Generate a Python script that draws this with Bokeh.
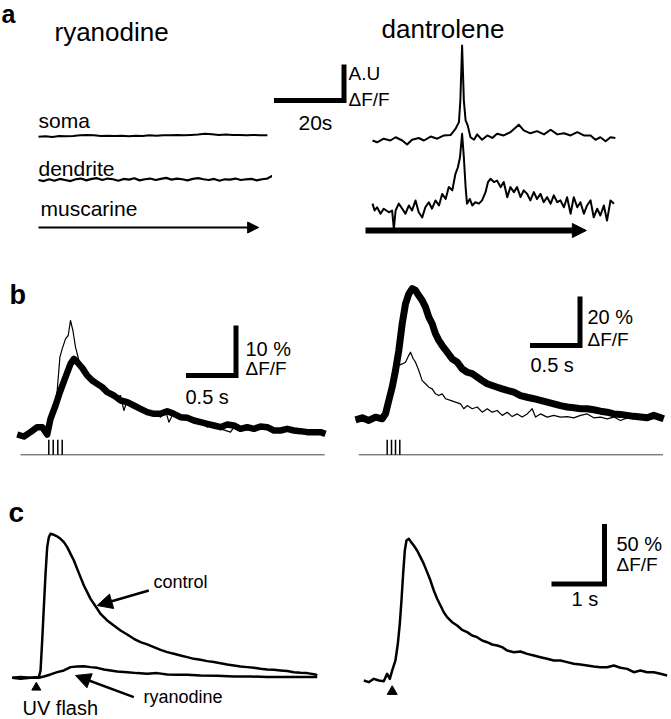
import numpy as np
from bokeh.plotting import figure
from bokeh.layouts import column, row
from bokeh.models import Range1d, Arrow, NormalHead
from bokeh.core.properties import value
from bokeh.embed import file_html
from bokeh.resources import INLINE

FONT = "Liberation Sans"

# ---------------- DATA ----------------
# panel a : time (s), fluorescence (A.U.)
a_ryan_soma = [-0.02, -0.01, -0.03, 0.0, -0.01, 0.0, 0.02, 0.03, 0.02, 0.0, 0.01, 0.0, 0.01, -0.01,
               0.01, 0.0, 0.02, 0.01, 0.02, 0.02, 0.03, 0.02, 0.03, 0.04, 0.06, 0.05, 0.03, 0.04,
               0.03, 0.03, 0.02, 0.03, 0.02, 0.02]
a_ryan_soma_dur = 65.4
a_ryan_dend = [0.0, -0.03, 0.02, -0.02, 0.03, 0.0, -0.03, 0.02, 0.04, -0.01, 0.03, 0.05, 0.0, 0.04,
               0.02, -0.02, 0.03, 0.01, 0.05, -0.01, 0.02, 0.04, 0.0, 0.03, 0.06, 0.01, 0.04, 0.02,
               -0.01, 0.03, 0.05, 0.02, 0.0, 0.03, -0.02, 0.02, 0.01, 0.04, 0.0, 0.02, 0.03, -0.01,
               0.02, 0.04, 0.12]
a_ryan_dend_dur = 66.9
a_ryan_muscarine = (0.0, 62.9)

a_dant_soma = [(0.0, 0.0), (1.3, -0.05), (3.2, 0.05), (5.1, 0.0), (6.6, 0.09), (8.5, 0.0), (9.9, -0.11),
               (11.3, 0.02), (13.2, 0.07), (14.7, 0.0), (16.6, 0.11), (18.5, 0.05), (20.4, 0.14),
               (22.3, 0.15), (23.7, 0.32), (24.7, 0.51), (25.1, 1.11), (25.6, 2.64), (26.1, 1.11),
               (26.6, 0.56), (27.2, 0.42), (28.0, 0.09), (29.0, 0.02), (29.9, 0.17), (31.3, 0.02),
               (32.8, 0.14), (34.2, 0.07), (35.6, 0.19), (37.5, 0.14), (39.4, 0.23), (41.8, 0.44),
               (43.2, 0.28), (45.1, 0.20), (47.0, 0.26), (49.0, 0.17), (50.9, 0.30), (52.8, 0.17),
               (54.7, 0.20), (56.6, 0.14), (58.5, 0.23), (60.4, 0.14), (62.3, 0.14), (63.7, 0.02),
               (65.1, 0.09), (66.6, -0.02), (68.0, 0.09), (69.4, 0.07)]
a_dant_dend = [(0.0, 0.19), (0.6, 0.0), (1.3, 0.09), (2.3, -0.09), (3.2, 0.05), (4.7, -0.05), (5.6, 0.0),
               (6.1, -0.51), (6.6, 0.0), (7.5, 0.19), (8.5, 0.05), (9.4, -0.09), (10.4, 0.14),
               (11.3, 0.0), (12.3, 0.28), (13.2, -0.05), (14.2, -0.19), (15.1, 0.09), (16.1, 0.23),
               (17.0, 0.05), (18.0, 0.28), (19.0, 0.14), (19.9, 0.46), (20.9, 0.32), (21.8, 0.65),
               (22.8, 0.56), (23.7, 1.02), (24.4, 1.20), (25.0, 1.48), (25.6, 2.13), (26.1, 1.48),
               (26.6, 0.65), (27.0, 0.19), (27.8, 0.32), (28.5, 0.14), (29.4, 0.23), (30.4, 0.19),
               (31.3, 0.28), (32.3, 0.51), (33.0, 0.79), (33.7, 0.88), (34.7, 0.79), (35.6, 0.83),
               (36.6, 0.65), (37.5, 0.79), (38.5, 0.37), (39.4, 0.65), (40.4, 0.51), (41.3, 0.65),
               (42.3, 0.37), (43.2, 0.56), (44.2, 0.46), (45.1, 0.28), (46.1, 0.51), (47.0, 0.32),
               (48.0, 0.46), (48.9, 0.23), (49.9, 0.37), (50.9, 0.19), (51.8, 0.42), (52.8, 0.23),
               (53.7, 0.28), (54.7, 0.09), (55.6, 0.37), (56.6, -0.09), (57.5, 0.37), (58.5, 0.09),
               (59.4, 0.23), (60.4, -0.09), (61.3, 0.14), (62.3, 0.28), (63.2, -0.19), (64.2, 0.05),
               (65.1, -0.14), (66.1, 0.14), (67.0, -0.28), (68.0, 0.28), (69.0, 0.19)]
a_dant_muscarine = (-2.0, 61.1)
a_scale = (20, 1)          # 20 s , 1 A.U.

# panel b : time (s), dF/F (%)
b_left_thick = [(0.0, 0.0), (0.067, -0.4), (0.133, 0.47), (0.2, 1.47), (0.25, 1.47), (0.3, 0.0),
                (0.333, 3.13), (0.383, 5.8), (0.433, 8.8), (0.483, 11.47), (0.533, 14.13),
                (0.567, 15.13), (0.6, 14.47), (0.65, 13.33), (0.7, 11.8), (0.75, 10.8), (0.8, 10.13),
                (0.85, 9.47), (0.9, 8.47), (0.967, 7.8), (1.033, 6.8), (1.1, 6.47), (1.167, 5.8),
                (1.233, 5.13), (1.3, 4.47), (1.367, 4.13), (1.433, 4.13), (1.5, 4.67), (1.567, 4.13),
                (1.633, 3.47), (1.7, 3.33), (1.767, 2.8), (1.833, 2.47), (1.9, 2.13), (1.967, 1.8),
                (2.033, 1.47), (2.1, 2.0), (2.167, 1.8), (2.233, 1.13), (2.3, 1.47), (2.367, 1.13),
                (2.433, 1.6), (2.5, 1.47), (2.567, 0.8), (2.633, 0.8), (2.7, 1.13), (2.767, 0.8),
                (2.833, 0.67), (2.9, 0.47), (2.967, 0.47), (3.033, 0.47), (3.083, 0.13)]
b_left_thin = [(0.0, -0.2), (0.067, -0.53), (0.133, 0.67), (0.2, 1.33), (0.25, 1.13), (0.3, -0.4),
               (0.333, 2.8), (0.367, 5.13), (0.4, 8.8), (0.427, 15.47), (0.45, 17.13), (0.483, 19.13),
               (0.51, 19.8), (0.533, 22.8), (0.557, 20.8), (0.583, 17.47), (0.617, 14.8),
               (0.667, 12.8), (0.717, 11.47), (0.767, 10.8), (0.833, 9.47), (0.9, 8.8),
               (0.983, 7.47), (1.033, 7.8), (1.067, 4.8), (1.1, 6.8), (1.167, 5.47), (1.233, 5.13),
               (1.3, 4.13), (1.367, 4.47), (1.433, 3.47), (1.483, 4.8), (1.517, 2.47), (1.567, 4.47),
               (1.633, 3.13), (1.7, 3.47), (1.767, 2.47), (1.833, 2.8), (1.9, 1.47), (1.967, 2.13),
               (2.033, 1.13), (2.133, 0.47), (2.167, 1.47), (2.233, 0.8), (2.367, 0.93), (2.5, 1.13),
               (2.633, 0.47), (2.767, 0.93), (2.9, 0.27), (3.033, 0.67), (3.083, 0.27)]
b_left_stim = [0.316, 0.36, 0.406, 0.45]
b_right_thick = [(0.0, -0.41), (0.067, 0.41), (0.133, -0.68), (0.2, 0.68), (0.267, 0.0), (0.3, 2.04),
                 (0.333, 7.48), (0.367, 12.9), (0.4, 19.7), (0.433, 27.9), (0.467, 38.8), (0.5, 46.9),
                 (0.533, 51.0), (0.567, 53.1), (0.6, 52.4), (0.633, 50.3), (0.667, 48.3), (0.7, 45.6),
                 (0.733, 41.5), (0.767, 38.8), (0.8, 34.7), (0.833, 32.0), (0.867, 29.9),
                 (0.917, 27.2), (0.967, 24.5), (1.017, 23.1), (1.067, 20.4), (1.117, 19.0),
                 (1.167, 18.4), (1.217, 17.0), (1.267, 15.6), (1.317, 14.3), (1.367, 13.6),
                 (1.417, 12.9), (1.467, 12.2), (1.517, 11.6), (1.583, 10.9), (1.65, 9.5),
                 (1.717, 8.8), (1.783, 8.2), (1.85, 7.5), (1.917, 6.8), (1.983, 6.1), (2.05, 5.4),
                 (2.117, 4.8), (2.183, 4.5), (2.25, 4.1), (2.317, 4.1), (2.383, 3.7), (2.45, 3.1),
                 (2.517, 2.7), (2.583, 2.0), (2.65, 1.8), (2.717, 1.4), (2.783, 1.0), (2.85, 0.7),
                 (2.917, 0.4), (2.983, 1.4), (3.033, 0.7), (3.083, 0.0)]
b_right_thin = [(0.0, -0.7), (0.067, 0.0), (0.133, -0.4), (0.2, 0.4), (0.267, -0.4), (0.3, 2.0),
                (0.333, 6.1), (0.367, 11.6), (0.4, 17.0), (0.433, 21.8), (0.467, 22.4), (0.5, 23.1),
                (0.533, 25.9), (0.55, 27.2), (0.577, 24.5), (0.6, 23.1), (0.633, 19.7),
                (0.667, 15.6), (0.7, 14.3), (0.733, 12.9), (0.767, 12.2), (0.8, 10.2), (0.833, 9.5),
                (0.867, 10.2), (0.9, 8.2), (0.95, 7.5), (1.0, 6.8), (1.05, 6.1), (1.083, 4.1),
                (1.117, 5.4), (1.167, 4.1), (1.217, 4.8), (1.267, 2.7), (1.317, 4.1), (1.367, 2.7),
                (1.417, 3.4), (1.467, 1.4), (1.517, 2.7), (1.567, 0.9), (1.617, 2.0), (1.667, 0.7),
                (1.717, 2.0), (1.767, 4.1), (1.8, 0.7), (1.85, 2.0), (1.917, 0.7), (1.983, 1.4),
                (2.05, 0.7), (2.117, 0.9), (2.183, 0.4), (2.25, 1.4), (2.317, 2.0), (2.383, 0.4),
                (2.45, 0.7), (2.517, 0.0), (2.583, 0.7), (2.65, -0.7), (2.717, 0.4), (2.783, 0.0)]
b_right_stim = [0.317, 0.36, 0.4, 0.443]
b_stim_span = (0.033, 3.075)
b_left_scale = (0.5, 10)
b_right_scale = (0.5, 20)

# panel c : time (s), dF/F (%)
c_control = [(0.0, 0.0), (0.157, 0.6), (0.346, 0.0), (0.503, 0.6), (0.535, 6.1), (0.566, 31.1),
             (0.597, 58.9), (0.629, 86.7), (0.66, 108.9), (0.692, 117.2), (0.723, 120.0),
             (0.786, 119.2), (0.849, 117.8), (0.912, 115.8), (0.975, 113.1), (1.038, 108.9),
             (1.101, 103.3), (1.164, 97.8), (1.226, 90.8), (1.289, 83.9), (1.352, 76.9),
             (1.415, 71.4), (1.478, 65.8), (1.541, 61.7), (1.604, 57.5), (1.667, 53.3),
             (1.792, 47.8), (1.918, 43.6), (2.044, 39.4), (2.17, 36.1), (2.296, 32.5),
             (2.421, 29.7), (2.547, 27.8), (2.673, 25.6), (2.799, 23.3), (2.925, 21.4),
             (3.05, 20.0), (3.176, 18.6), (3.302, 17.2), (3.428, 15.8), (3.553, 15.0),
             (3.679, 13.9), (3.805, 13.1), (3.931, 12.2), (4.057, 11.1), (4.182, 10.3),
             (4.308, 9.4), (4.434, 8.9), (4.56, 8.3), (4.686, 7.5), (4.811, 6.9), (4.937, 6.7),
             (5.063, 6.1), (5.189, 5.6), (5.314, 4.7), (5.44, 4.2), (5.566, 3.9), (5.723, 2.8),
             (5.755, 1.9)]
c_ryanodine = [(0.0, 0.0), (0.157, -0.8), (0.346, 0.0), (0.503, 0.0), (0.597, 1.1), (0.723, 2.8),
               (0.849, 4.7), (0.975, 6.1), (1.101, 8.9), (1.226, 9.4), (1.352, 9.7), (1.478, 8.9),
               (1.604, 8.3), (1.73, 6.9), (1.855, 6.1), (1.981, 5.3), (2.17, 4.7), (2.358, 3.9),
               (2.547, 3.3), (2.736, 3.9), (2.925, 2.8), (3.113, 2.5), (3.302, 2.5), (3.553, 1.9),
               (3.868, 1.7), (4.182, 1.1), (4.497, 1.1), (4.811, 0.6), (5.126, 0.6), (5.44, 0.6),
               (5.755, 0.6)]
c_left_flash = 0.455
c_dantrolene = [(0.0, 0.0), (0.094, -1.4), (0.189, 1.4), (0.283, 0.0), (0.377, -0.6), (0.44, 5.6),
                (0.491, 1.4), (0.535, 8.3), (0.597, 16.7), (0.642, 30.6), (0.679, 47.2),
                (0.711, 66.7), (0.742, 88.9), (0.774, 108.3), (0.805, 116.7), (0.849, 118.1),
                (0.893, 115.3), (0.943, 112.5), (1.006, 108.3), (1.069, 102.8), (1.132, 97.2),
                (1.195, 90.3), (1.258, 83.3), (1.321, 75.0), (1.384, 68.1), (1.447, 62.5),
                (1.509, 56.9), (1.572, 52.8), (1.667, 48.6), (1.761, 45.8), (1.855, 42.2),
                (1.95, 40.3), (2.044, 37.5), (2.138, 36.1), (2.233, 33.3), (2.327, 31.9),
                (2.421, 30.0), (2.516, 29.2), (2.61, 27.8), (2.704, 25.0), (2.83, 23.6),
                (2.956, 24.2), (3.082, 22.2), (3.208, 20.8), (3.333, 19.4), (3.459, 18.1),
                (3.585, 16.7), (3.711, 16.7), (3.836, 15.3), (3.962, 13.9), (4.088, 13.3),
                (4.214, 12.5), (4.34, 11.7), (4.465, 11.1), (4.591, 11.1), (4.717, 12.5),
                (4.843, 10.6), (4.969, 9.7), (5.094, 6.9), (5.22, 8.3), (5.346, 6.9), (5.472, 6.9),
                (5.597, 5.6), (5.723, 4.2)]
c_right_flash = 0.536
c_scale = (1, 50)


# ---------------- helpers ----------------
def panel(x0, x1, y0, y1, ox, oy, sx, sy):
    p = figure(width=x1 - x0, height=y1 - y0, title=None,
               x_range=Range1d((x0 - ox) / sx, (x1 - ox) / sx),
               y_range=Range1d((oy - y1) / sy, (oy - y0) / sy),
               x_axis_type=None, y_axis_type=None,
               toolbar_location=None, output_backend="svg",
               min_border=0, outline_line_color=None,
               background_fill_color="white", border_fill_color="white")
    p.min_border_left = p.min_border_right = p.min_border_top = p.min_border_bottom = 0
    X = lambda px: (px - ox) / sx
    Y = lambda py: (oy - py) / sy
    return p, X, Y


def label(p, X, Y, px, baseline_px, text, size, bold=False):
    # the svg text is drawn about 0.35 em below the requested alphabetic line here,
    # so the anchor is raised by that amount to land the baseline where wanted
    p.text(x=[X(px)], y=[Y(baseline_px - 0.35 * size)], text=[text], text_font=value(FONT),
           text_font_size=value(f"{size}px"),
           text_font_style="bold" if bold else "normal", text_align="left",
           text_baseline="alphabetic", text_color="black")


def scalebar(p, cx, cy, dx, dy, lw=5):
    p.line([cx - dx, cx, cx], [cy, cy, cy + dy], line_width=lw, line_color="black",
           line_join="miter", line_cap="butt")


def trace(p, pairs, offset=0.0, lw=2.0):
    t, v = zip(*pairs)
    p.line(list(t), [vv + offset for vv in v], line_width=lw, line_color="black", line_join="round")


def arrow(p, xs, ys, xe, ye, lw, head):
    p.add_layout(Arrow(end=NormalHead(size=head, fill_color="black", line_color="black", line_width=1),
                       x_start=xs, y_start=ys, x_end=xe, y_end=ye,
                       line_width=lw, line_color="black"))


ROW_AB = 265   # boundary between rows a and b
ROW_BC = 490   # boundary between rows b and c

# ---------------- panel a left (ryanodine) ----------------
pa1, X, Y = panel(0, 272, 0, ROW_AB, 38, 135.5, 3.5, 36)
label(pa1, X, Y, 1, 22, "a", 25, bold=True)
label(pa1, X, Y, 54, 41, "ryanodine", 26)
label(pa1, X, Y, 38, 127, "soma", 21)
label(pa1, X, Y, 38, 175, "dendrite", 21)
label(pa1, X, Y, 40, 215, "muscarine", 21)
t_s = np.linspace(0, a_ryan_soma_dur, len(a_ryan_soma))
pa1.line(t_s, a_ryan_soma, line_width=2, line_color="black")
t_d = np.linspace(0, a_ryan_dend_dur, len(a_ryan_dend))
pa1.line(t_d, [v + Y(179.5) for v in a_ryan_dend], line_width=2.2, line_color="black")
arrow(pa1, a_ryan_muscarine[0], Y(227), a_ryan_muscarine[1], Y(227), 2, 11)

# ---------------- panel a right (dantrolene) ----------------
pa2, X, Y = panel(272, 671, 0, ROW_AB, 372, 140, 3.5, 36)
label(pa2, X, Y, 381, 38, "dantrolene", 26)
scalebar(pa2, X(343.5), Y(100), a_scale[0], a_scale[1])
label(pa2, X, Y, 298, 129, "20s", 21)
label(pa2, X, Y, 348, 80, "A.U", 19)
label(pa2, X, Y, 348, 106, "\u0394F/F", 19)
trace(pa2, a_dant_soma, 0.0, 2)
trace(pa2, a_dant_dend, Y(210), 2)
arrow(pa2, a_dant_muscarine[0], Y(230), a_dant_muscarine[1], Y(230), 6, 14)

# ---------------- panel b left ----------------
pb1, X, Y = panel(0, 340, ROW_AB, ROW_BC, 16.7, 434, 100, 5)
label(pb1, X, Y, 9, 304, "b", 27, bold=True)
scalebar(pb1, X(235.5), Y(375), b_left_scale[0], b_left_scale[1])
label(pb1, X, Y, 245, 355, "10 %", 20)
label(pb1, X, Y, 245, 375, "\u0394F/F", 19)
label(pb1, X, Y, 185, 403, "0.5 s", 20)
trace(pb1, b_left_thin, 0.0, 1.2)
trace(pb1, b_left_thick, 0.0, 6.5)
pb1.line(list(b_stim_span), [Y(454.3)] * 2, line_width=1, line_color="#444444")
pb1.segment(x0=b_left_stim, y0=[Y(454.3)] * 4, x1=b_left_stim, y1=[Y(439.3)] * 4,
            line_width=1.5, line_color="black")

# ---------------- panel b right ----------------
pb2, X, Y = panel(340, 671, ROW_AB, ROW_BC, 355, 418.3, 100, 2.45)
scalebar(pb2, X(579.5), Y(345), b_right_scale[0], b_right_scale[1])
label(pb2, X, Y, 587, 323, "20 %", 20)
label(pb2, X, Y, 587, 346, "\u0394F/F", 19)
label(pb2, X, Y, 530, 371, "0.5 s", 20)
trace(pb2, b_right_thin, 0.0, 1.2)
trace(pb2, b_right_thick, 0.0, 7)
pb2.line(list(b_stim_span), [Y(454.3)] * 2, line_width=1, line_color="#444444")
pb2.segment(x0=b_right_stim, y0=[Y(454.3)] * 4, x1=b_right_stim, y1=[Y(439.3)] * 4,
            line_width=1.5, line_color="black")

# ---------------- panel c left ----------------
pc1, X, Y = panel(0, 340, ROW_BC, 719, 11.7, 677.3, 53, 1.2)
label(pc1, X, Y, 8, 522, "c", 28, bold=True)
trace(pc1, c_ryanodine, 0.0, 2.5)
trace(pc1, c_control, 0.0, 2.5)
pc1.scatter([c_left_flash], [Y(687)], marker="triangle", size=9, color="black")
label(pc1, X, Y, 153, 588, "control", 18)
arrow(pc1, X(148.3), Y(590), X(96.7), Y(605), 2.5, 15)
label(pc1, X, Y, 143, 703, "ryanodine", 18)
arrow(pc1, X(133.3), Y(696.7), X(75), Y(675), 2.5, 15)
label(pc1, X, Y, 22, 714, "UV flash", 20)

# ---------------- panel c right ----------------
pc2, X, Y = panel(340, 671, ROW_BC, 719, 363.3, 680, 53, 1.2)
scalebar(pc2, X(604), Y(583.5), c_scale[0], c_scale[1])
label(pc2, X, Y, 616, 550, "50 %", 20)
label(pc2, X, Y, 616, 571, "\u0394F/F", 19)
label(pc2, X, Y, 571, 605, "1 s", 20)
trace(pc2, c_dantrolene, 0.0, 2.5)
pc2.scatter([c_right_flash], [Y(691)], marker="triangle", size=10, color="black")

layout = column(row(pa1, pa2), row(pb1, pb2), row(pc1, pc2))
open("out.html", "w").write(file_html(layout, INLINE))
